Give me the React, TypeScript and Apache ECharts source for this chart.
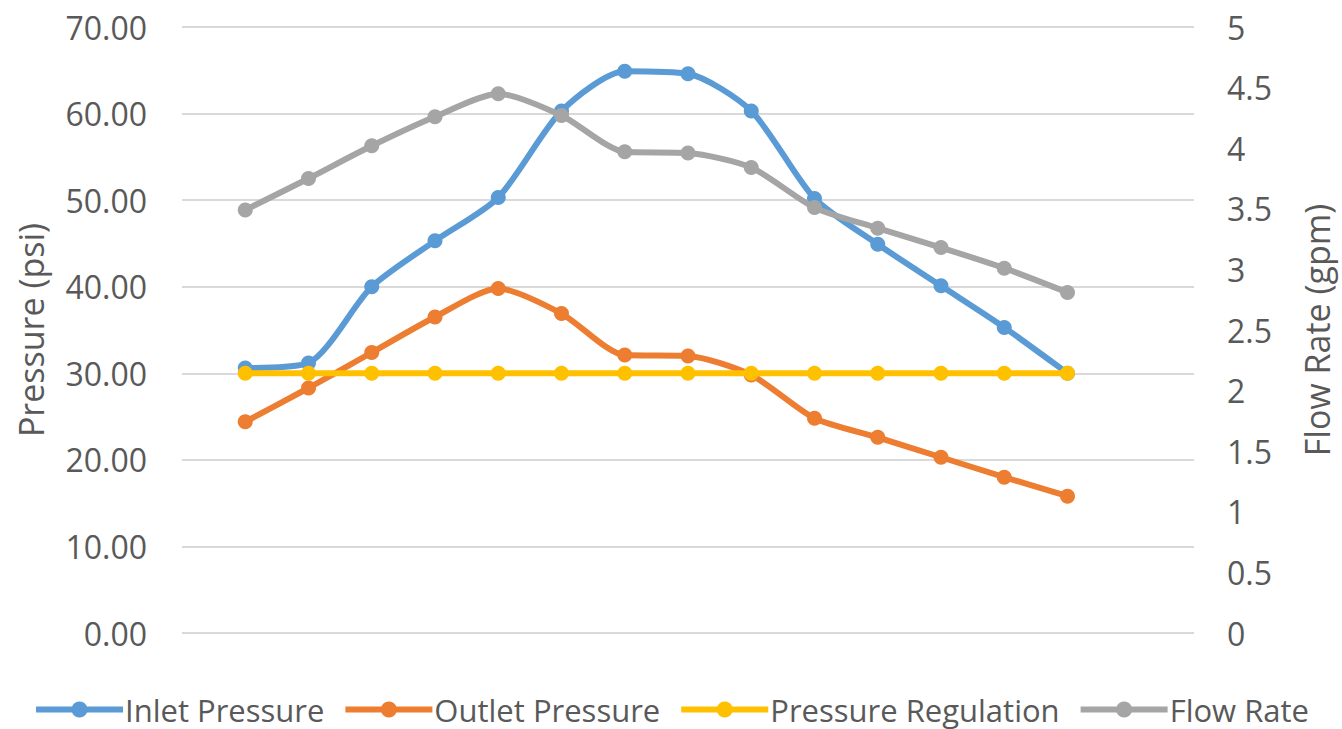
import React, { useEffect, useRef } from "react";
import * as echarts from "echarts";

// Measurement index (1..14) along the horizontal axis
const steps = [1, 2, 3, 4, 5, 6, 7, 8, 9, 10, 11, 12, 13, 14];

// Pressures in psi
const inletPressure = [30.6, 31.2, 40.0, 45.3, 50.3, 60.3, 64.9, 64.6, 60.3, 50.2, 44.9, 40.1, 35.3, 30.0];
const outletPressure = [24.4, 28.3, 32.4, 36.5, 39.8, 36.9, 32.1, 32.0, 29.8, 24.8, 22.6, 20.3, 18.0, 15.8];
const pressureRegulation = [30, 30, 30, 30, 30, 30, 30, 30, 30, 30, 30, 30, 30, 30];

// Flow rate in gpm
const flowRate = [3.49, 3.75, 4.02, 4.26, 4.45, 4.27, 3.97, 3.96, 3.84, 3.51, 3.34, 3.18, 3.01, 2.81];

const seriesNames = ["Inlet Pressure", "Outlet Pressure", "Pressure Regulation", "Flow Rate"];
const seriesColors = ["#5B9BD5", "#ED7D31", "#FFC000", "#A5A5A5"];

const FONT = "'Open Sans', Lato, sans-serif";
const TEXT = "#595959";

const pairs = (vals: number[]) => steps.map((s, i) => [s, vals[i]]);

export default function App() {
  const ref = useRef<HTMLDivElement>(null);

  useEffect(() => {
    document.body.style.margin = "0";
    if (!ref.current) return;
    const chart = echarts.init(ref.current, undefined, { renderer: "svg" });

    const mkSeries = (idx: number, vals: number[], yAxisIndex: number) => ({
      name: seriesNames[idx],
      type: "line",
      yAxisIndex,
      data: pairs(vals),
      smooth: 0.25,
      symbol: "circle",
      symbolSize: 15,
      lineStyle: { width: 6, color: seriesColors[idx] },
      itemStyle: { color: seriesColors[idx] },
      z: 2 + idx,
    });

    chart.setOption({
      animation: false,
      backgroundColor: "#ffffff",
      grid: { left: 182, right: 142, top: 27, bottom: 96 },
      legend: {
        bottom: 4,
        left: "center",
        padding: [0, 5, 0, 5],
        itemWidth: 87,
        itemHeight: 20,
        itemGap: 18,
        lineStyle: { width: 6 },
        textStyle: {
          fontFamily: FONT,
          fontSize: 31,
          lineHeight: 31,
          color: TEXT,
          padding: [0, 0, 0, -3],
        },
        data: seriesNames,
      },
      xAxis: {
        type: "value",
        min: 0,
        max: 16,
        show: false,
      },
      yAxis: [
        {
          type: "value",
          min: 0,
          max: 70,
          interval: 10,
          name: "Pressure (psi)",
          nameLocation: "middle",
          nameGap: 134,
          nameTextStyle: { fontFamily: FONT, fontSize: 34, color: TEXT },
          axisLine: { show: false },
          axisTick: { show: false },
          axisLabel: {
            margin: 35,
            fontFamily: FONT,
            fontSize: 32,
            color: TEXT,
            formatter: (v: number) => v.toFixed(2),
          },
          splitLine: { lineStyle: { color: "#D9D9D9", width: 2 } },
        },
        {
          type: "value",
          min: 0,
          max: 5,
          interval: 0.5,
          name: "Flow Rate (gpm)",
          nameLocation: "middle",
          nameGap: 106,
          nameRotate: 90,
          nameTextStyle: { fontFamily: FONT, fontSize: 34, color: TEXT },
          axisLine: { show: false },
          axisTick: { show: false },
          axisLabel: {
            margin: 33,
            fontFamily: FONT,
            fontSize: 32,
            color: TEXT,
            formatter: (v: number) => String(v),
          },
          splitLine: { show: false },
        },
      ],
      series: [
        mkSeries(0, inletPressure, 0),
        mkSeries(1, outletPressure, 0),
        mkSeries(2, pressureRegulation, 0),
        mkSeries(3, flowRate, 1),
      ],
    });

    return () => chart.dispose();
  }, []);

  return <div ref={ref} style={{ width: 1342, height: 729 }} />;
}
